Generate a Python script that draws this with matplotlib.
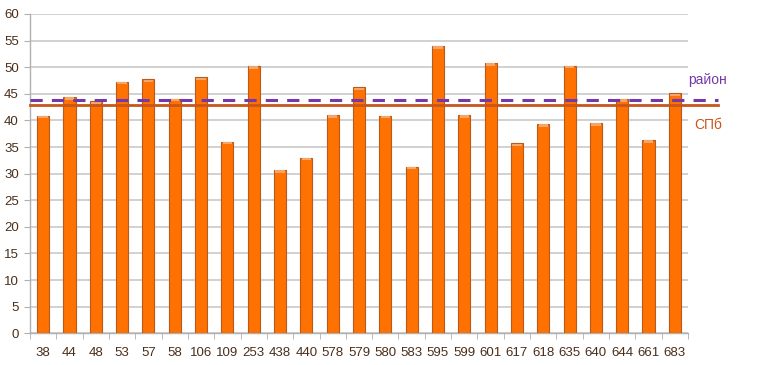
import numpy as np
import matplotlib.pyplot as plt

# School numbers and their scores
schools = ["38", "44", "48", "53", "57", "58", "106", "109", "253", "438", "440", "578", "579",
           "580", "583", "595", "599", "601", "617", "618", "635", "640", "644", "661", "683"]
scores = [40.9, 44.4, 43.6, 47.3, 47.7, 44.1, 48.1, 36.0, 50.2, 30.7, 33.0, 41.0, 46.2,
          40.9, 31.3, 54.0, 41.0, 50.8, 35.7, 39.3, 50.3, 39.5, 44.0, 36.3, 45.1]

# average lines
rayon_avg = 43.75
spb_avg = 42.9

plt.rcParams['font.family'] = ['Liberation Sans', 'DejaVu Sans']

fig = plt.figure(figsize=(7.62, 3.65), dpi=100)
ax = fig.add_axes([30 / 762, (365 - 333.3) / 365, 658 / 762, 319.3 / 365])

x = np.arange(len(schools))
vals = np.array(scores)
ax.bar(x, vals, width=0.46, color="#FF7100", edgecolor="#B85A1E", linewidth=0.8, zorder=3)
# lighter cap on bar tops
ax.bar(x, 0.45, bottom=vals - 0.5, width=0.36, color="#F2A66A", linewidth=0, zorder=4)

ax.set_xlim(-0.5, len(schools) - 0.5)
ax.set_ylim(0, 60)
ax.set_yticks(np.arange(0, 61, 5))
ax.set_xticks(x)
ax.set_xticklabels(schools)
ax.set_xticks(np.arange(-0.5, len(schools), 1), minor=True)

ax.grid(axis="y", color="#CACACA", linewidth=1.2, zorder=0)
for s in ["top", "right"]:
    ax.spines[s].set_visible(False)
for s in ["left", "bottom"]:
    ax.spines[s].set_color("#B0B0B0")
    ax.spines[s].set_linewidth(1.0)

lab_col = "#4A2E1A"
ax.tick_params(axis="x", which="major", length=0, pad=10, labelsize=9.5, labelcolor=lab_col)
ax.tick_params(axis="x", which="minor", length=4, color="#B0B0B0")
ax.tick_params(axis="y", length=4, color="#B0B0B0", labelsize=9.5, labelcolor=lab_col, pad=4)

# average lines extend past the plot area
x_end = len(schools) - 0.5 + 1.15
ax.plot([-0.5, x_end], [spb_avg, spb_avg], color="#C8561A", linewidth=2, clip_on=False, zorder=5)
ax.plot([-0.5, x_end], [rayon_avg, rayon_avg], color="#7438A8", linewidth=2.2,
        linestyle=(0, (4, 3)), clip_on=False, zorder=6)

ax.text(len(schools) - 0.5, 47.6, "район", color="#7438A8", fontsize=10,
        ha="left", va="center", clip_on=False)
ax.text(len(schools) - 0.5 + 0.25, 39.2, "СПб", color="#C8561A", fontsize=10,
        ha="left", va="center", clip_on=False)

fig.savefig("out.png", dpi=100)
